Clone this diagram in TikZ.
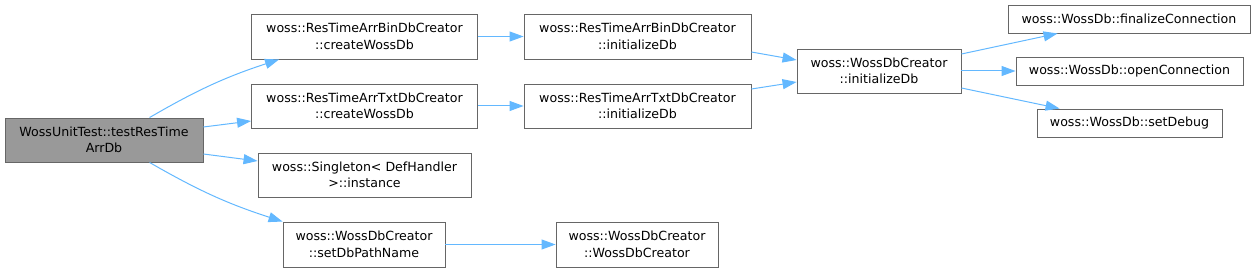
\documentclass[tikz,border=0pt]{standalone}
\usepackage{fontspec}
\setmainfont{DejaVu Sans}
\usetikzlibrary{
  arrows.meta, % Triangle arrow tips
  calc         % anchor offsets
}
\definecolor{edgeblue}{HTML}{63B8FF}
\definecolor{boxborder}{HTML}{666666}
\definecolor{rootfill}{HTML}{999999}
\tikzset{
  fnbox/.style={
    draw=boxborder,
    fill=white,
    line width=0.9pt,
    align=center,
    inner sep=0pt,
    font=\fontsize{12.6}{16.5}\selectfont
  },
  rootbox/.style={
    fnbox,
    fill=rootfill
  },
  call/.style={
    -{Triangle[length=14pt,width=10pt]},
    draw=edgeblue,
    line width=1pt
  }
}

\begin{document}
\begin{tikzpicture}[x=1pt, y=1pt]
    \useasboundingbox (0,0) rectangle (1256,-272);

    % caller (grey box, left)
    \node[rootbox, minimum width=198pt, minimum height=44pt] (root) at (104,-140)
      {WossUnitTest::testResTime\\ArrDb};

    % first column of callees
    \node[fnbox, minimum width=226pt, minimum height=45pt] (bincreate) at (364.5,-36.5)
      {woss::ResTimeArrBinDbCreator\\::createWossDb};
    \node[fnbox, minimum width=226pt, minimum height=44pt] (txtcreate) at (364.5,-106)
      {woss::ResTimeArrTxtDbCreator\\::createWossDb};
    \node[fnbox, minimum width=213pt, minimum height=44pt] (singleton) at (364.5,-175)
      {woss::Singleton< DefHandler\\>::instance};
    \node[fnbox, minimum width=162pt, minimum height=45pt] (setpath) at (364,-244.5)
      {woss::WossDbCreator\\::setDbPathName};

    % second column
    \node[fnbox, minimum width=227pt, minimum height=45pt] (bininit) at (637.5,-36.5)
      {woss::ResTimeArrBinDbCreator\\::initializeDb};
    \node[fnbox, minimum width=227pt, minimum height=44pt] (txtinit) at (637.5,-106)
      {woss::ResTimeArrTxtDbCreator\\::initializeDb};
    \node[fnbox, minimum width=162pt, minimum height=45pt] (wdcctor) at (637,-244.5)
      {woss::WossDbCreator\\::WossDbCreator};

    % third column
    \node[fnbox, minimum width=164pt, minimum height=44pt] (wdcinit) at (879,-71)
      {woss::WossDbCreator\\::initializeDb};

    % last column
    \node[fnbox, minimum width=242pt, minimum height=28pt] (finalize) at (1129,-19)
      {woss::WossDb::finalizeConnection};
    \node[fnbox, minimum width=227pt, minimum height=28pt] (openconn) at (1129.5,-71)
      {woss::WossDb::openConnection};
    \node[fnbox, minimum width=185pt, minimum height=28pt] (setdebug) at (1129.5,-123)
      {woss::WossDb::setDebug};

    % calls from the test
    \draw[call] ($(root.north west)+(145,0)$) to[bend left=6] ($(bincreate.south west)+(28,0)$);
    \draw[call] ($(root.east)+(0,13)$) -- ($(txtcreate.west)+(0,-15)$);
    \draw[call] ($(root.east)+(0,-14)$) -- ($(singleton.west)+(0,14)$);
    \draw[call] ($(root.south west)+(145,0)$) to[bend right=6] (setpath.north west);

    % second level
    \draw[call] (bincreate.east) -- (bininit.west);
    \draw[call] (txtcreate.east) -- (txtinit.west);
    \draw[call] (setpath.east) -- (wdcctor.west);
    \draw[call] ($(bininit.east)+(0,-15.5)$) -- ($(wdcinit.west)+(0,11)$);
    \draw[call] ($(txtinit.east)+(0,17)$) -- ($(wdcinit.west)+(0,-11)$);

    % calls from initializeDb
    \draw[call] ($(wdcinit.east)+(0,17)$) -- ($(finalize.south west)+(50,0)$);
    \draw[call] (wdcinit.east) -- (openconn.west);
    \draw[call] ($(wdcinit.east)+(0,-17)$) -- ($(setdebug.north west)+(23,0)$);

  \end{tikzpicture}
\end{document}
